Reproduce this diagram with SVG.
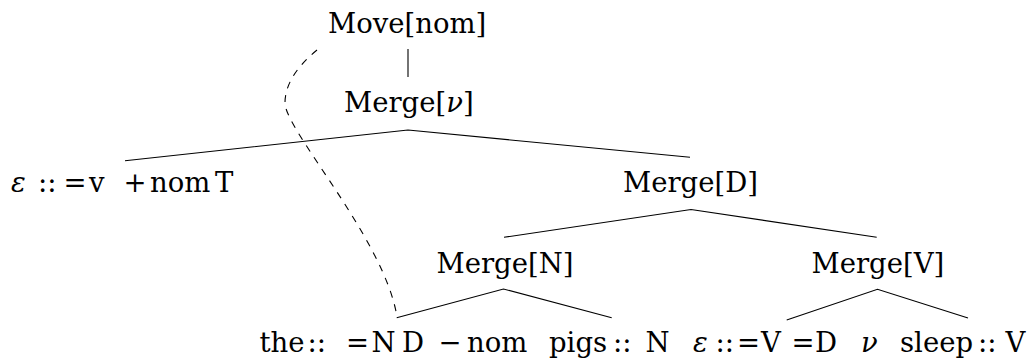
<svg xmlns="http://www.w3.org/2000/svg" width="1035" height="360" viewBox="0 0 1035 360">
<style>
.t{font-family:"DejaVu Serif","Liberation Serif",serif;font-size:27.5px;fill:#000}
.i{font-style:italic}
.e{stroke:#000;stroke-width:1.1;fill:none;stroke-linecap:butt}
.d{stroke:#000;stroke-width:1.1;fill:none;stroke-dasharray:7 7}
</style>
<rect width="1035" height="360" fill="#fff"/>
<g id="connectors">
<line class="e" x1="408" y1="49" x2="408" y2="77"/>
<polyline class="e" points="125,160.7 408,130 690,157.3"/>
<polyline class="e" points="504,237.3 691,209.5 876.7,237.3"/>
<polyline class="e" points="396.7,317.7 503.5,289 611.7,317.7"/>
<polyline class="e" points="786.7,320 877.5,289.3 968,318"/>
<path class="d" d="M317 50 C300 64 285 82 285 103 C285 130 385 240 397 317"/>
</g>
<g id="n-move"><text class="t" x="328" y="33">Move[nom]</text></g>
<g id="n-merge-v"><text class="t" x="344" y="112">Merge[<tspan class="i">ν</tspan>]</text></g>
<g id="n-eps-T"><text class="t" y="192"><tspan class="i" x="11">ε</tspan><tspan x="38">::</tspan><tspan x="63.5">=</tspan><tspan x="89">v</tspan><tspan x="123.5">+</tspan><tspan x="150">nom</tspan><tspan x="215">T</tspan></text></g>
<g id="n-merge-D"><text class="t" x="623" y="192">Merge[D]</text></g>
<g id="n-merge-N"><text class="t" x="436.5" y="273">Merge[N]</text></g>
<g id="n-merge-V"><text class="t" x="811.5" y="273">Merge[V]</text></g>
<g id="n-the"><text class="t" y="351.5"><tspan x="259.5">the</tspan><tspan x="307.5">::</tspan><tspan x="346">=</tspan><tspan x="371.5">N</tspan><tspan x="402">D</tspan><tspan x="438.5">−</tspan><tspan x="467">nom</tspan></text></g>
<g id="n-pigs"><text class="t" y="351.5"><tspan x="549">pigs</tspan><tspan x="613">::</tspan><tspan x="645.5">N</tspan></text></g>
<g id="n-eps-v"><text class="t" y="351.5"><tspan class="i" x="693">ε</tspan><tspan x="715.5">::</tspan><tspan x="737">=</tspan><tspan x="761">V</tspan><tspan x="791.5">=</tspan><tspan x="815">D</tspan><tspan class="i" x="861">ν</tspan></text></g>
<g id="n-sleep"><text class="t" y="351.5"><tspan x="900">sleep</tspan><tspan x="978">::</tspan><tspan x="1005.5">V</tspan></text></g>
</svg>
